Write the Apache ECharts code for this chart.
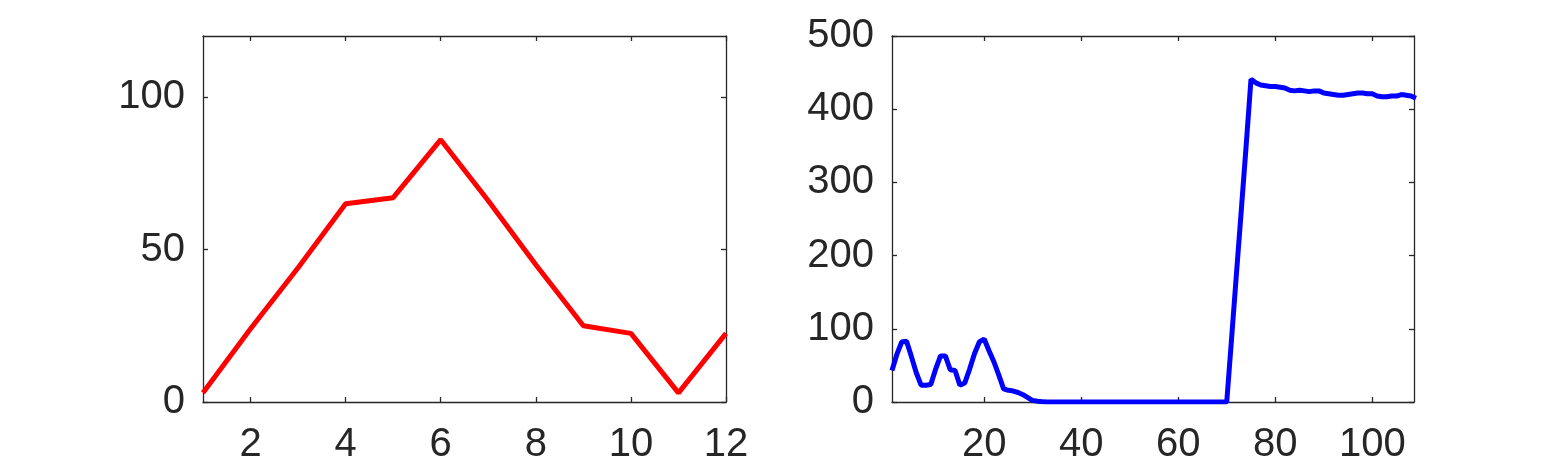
<!DOCTYPE html>
<html>
<head>
<meta charset="utf-8">
<script src="https://cdn.jsdelivr.net/npm/echarts@6/dist/echarts.min.js"></script>
<style>
  html, body { margin: 0; padding: 0; background: #fff; }
  #chart { width: 1563px; height: 469px; }
</style>
</head>
<body>
<div id="chart"></div>
<script>
// left panel
const leftX = [1, 2, 3, 4, 5, 6, 7, 8, 9, 10, 11, 12];
const leftY = [3, 24, 44, 65, 67, 86, 66, 45, 25, 22.5, 3, 22.5];
const leftXTicks = [2, 4, 6, 8, 10, 12];
const leftYTicks = [0, 50, 100];

// right panel
const rightY = [
  43, 65, 82, 83, 62, 40, 23, 23, 24, 45,
  63, 63, 44, 43, 23, 26, 45, 66, 82, 86,
  70, 55, 37, 18, 16, 15, 13, 10, 6, 2,
  1, 0.5, 0, 0, 0, 0, 0, 0, 0, 0,
  0, 0, 0, 0, 0, 0, 0, 0, 0, 0,
  0, 0, 0, 0, 0, 0, 0, 0, 0, 0,
  0, 0, 0, 0, 0, 0, 0, 0, 0, 0,
  87, 175, 262, 350, 441, 436, 433, 432, 431, 431,
  430, 429, 426, 425, 426, 425, 424, 425, 425, 422,
  421, 420, 419, 419, 420, 421, 422, 422, 421, 421,
  418, 417, 417, 418, 418, 420, 419, 418, 415
];
const rightX = rightY.map((_, i) => i + 1);
const rightXTicks = [20, 40, 60, 80, 100];
const rightYTicks = [0, 100, 200, 300, 400, 500];

const axisColor = '#262626';
const labelFont = {
  color: '#262626',
  fontSize: 40,
  fontFamily: 'Liberation Sans, Arial, sans-serif',
};

function boxAxes(gridIndex, xmin, xmax, ymin, ymax, xticks, yticks) {
  const line = { show: true, onZero: false, lineStyle: { color: axisColor, width: 1.3 } };
  const tick = (vals) => ({
    show: true,
    inside: true,
    length: 5,
    customValues: vals,
    lineStyle: { color: axisColor, width: 1.3 },
  });
  const x = [
    {
      gridIndex, type: 'value', min: xmin, max: xmax, position: 'bottom',
      axisLine: line, axisTick: tick(xticks), splitLine: { show: false },
      axisLabel: { ...labelFont, margin: 23, customValues: xticks },
    },
    {
      gridIndex, type: 'value', min: xmin, max: xmax, position: 'top',
      axisLine: line, axisTick: tick(xticks), splitLine: { show: false },
      axisLabel: { show: false },
    },
  ];
  const y = [
    {
      gridIndex, type: 'value', min: ymin, max: ymax, position: 'left',
      axisLine: line, axisTick: tick(yticks), splitLine: { show: false },
      axisLabel: { ...labelFont, margin: 18, customValues: yticks },
    },
    {
      gridIndex, type: 'value', min: ymin, max: ymax, position: 'right',
      axisLine: line, axisTick: tick(yticks), splitLine: { show: false },
      axisLabel: { show: false },
    },
  ];
  return { x, y };
}

const leftAxes = boxAxes(0, 1, 12, 0, 120, leftXTicks, leftYTicks);
const rightAxes = boxAxes(1, 1, 108.6, 0, 500, rightXTicks, rightYTicks);

const option = {
  animation: false,
  grid: [
    { left: 203, top: 36, width: 523, height: 366 },
    { left: 892, top: 36, width: 522, height: 366 },
  ],
  xAxis: [...leftAxes.x, ...rightAxes.x],
  yAxis: [...leftAxes.y, ...rightAxes.y],
  series: [
    {
      type: 'line',
      xAxisIndex: 0,
      yAxisIndex: 0,
      data: leftX.map((x, i) => [x, leftY[i]]),
      showSymbol: false,
      lineStyle: { color: '#ff0000', width: 5 },
      clip: true,
    },
    {
      type: 'line',
      xAxisIndex: 2,
      yAxisIndex: 2,
      data: rightX.map((x, i) => [x, rightY[i]]),
      showSymbol: false,
      lineStyle: { color: '#0000ff', width: 5 },
      clip: true,
    },
  ],
};

const myChart = echarts.init(document.getElementById('chart'));
myChart.setOption(option);
</script>
</body>
</html>
